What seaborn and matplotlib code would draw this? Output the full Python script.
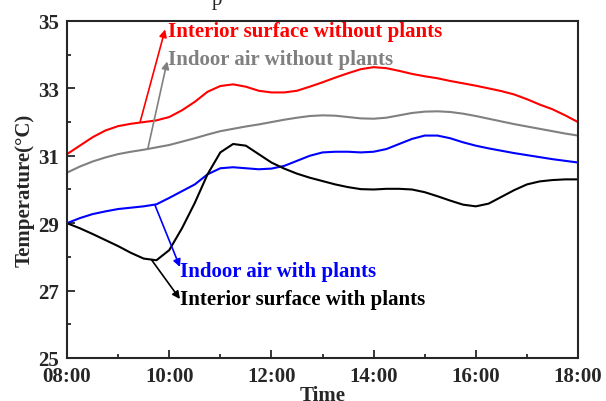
import matplotlib.pyplot as plt
import seaborn as sns
import pandas as pd

# time in hours, every quarter hour
hours = [8.0, 8.25, 8.5, 8.75, 9.0, 9.25, 9.5, 9.75, 10.0, 10.25, 10.5,
         10.75, 11.0, 11.25, 11.5, 11.75, 12.0, 12.25, 12.5, 12.75, 13.0,
         13.25, 13.5, 13.75, 14.0, 14.25, 14.5, 14.75, 15.0, 15.25, 15.5,
         15.75, 16.0, 16.25, 16.5, 16.75, 17.0, 17.25, 17.5, 17.75, 18.0]

surf_no_plants = [31.05, 31.3, 31.55, 31.75, 31.88, 31.95, 32.0, 32.05, 32.15, 32.35, 32.6,
                  32.9, 33.07, 33.12, 33.05, 32.93, 32.88, 32.88, 32.93, 33.05, 33.18,
                  33.32, 33.45, 33.57, 33.63, 33.6, 33.52, 33.43, 33.36, 33.3, 33.22,
                  33.15, 33.08, 33.0, 32.92, 32.82, 32.68, 32.52, 32.38, 32.2, 32.0]
air_no_plants = [30.5, 30.68, 30.83, 30.95, 31.05, 31.12, 31.18, 31.25, 31.32, 31.42, 31.52,
                 31.63, 31.73, 31.8, 31.87, 31.93, 32.0, 32.07, 32.13, 32.18, 32.2,
                 32.19, 32.15, 32.11, 32.1, 32.13, 32.2, 32.27, 32.31, 32.32, 32.3,
                 32.25, 32.18, 32.1, 32.02, 31.94, 31.87, 31.8, 31.73, 31.66, 31.6]
air_plants = [29.0, 29.15, 29.27, 29.35, 29.42, 29.46, 29.5, 29.56, 29.75, 29.95, 30.15,
              30.45, 30.63, 30.66, 30.63, 30.6, 30.62, 30.7, 30.85, 31.0, 31.1,
              31.12, 31.12, 31.1, 31.12, 31.2, 31.35, 31.5, 31.6, 31.6, 31.52,
              31.4, 31.3, 31.22, 31.15, 31.08, 31.02, 30.96, 30.9, 30.85, 30.8]
surf_plants = [29.0, 28.85, 28.68, 28.5, 28.32, 28.12, 27.95, 27.9, 28.2, 28.85, 29.6,
               30.45, 31.1, 31.35, 31.3, 31.05, 30.8, 30.62, 30.47, 30.35, 30.25,
               30.15, 30.07, 30.01, 30.0, 30.02, 30.02, 30.0, 29.92, 29.8, 29.67,
               29.55, 29.5, 29.58, 29.78, 29.98, 30.15, 30.24, 30.28, 30.3, 30.3]

tick_labels = ["08:00", "10:00", "12:00", "14:00", "16:00", "18:00"]

df = pd.DataFrame({"hour": hours,
                   "surf_no": surf_no_plants, "air_no": air_no_plants,
                   "air_pl": air_plants, "surf_pl": surf_plants})

sns.set_style("ticks")
plt.rcParams["font.family"] = ["Liberation Serif", "DejaVu Serif"]
plt.rcParams["font.weight"] = "bold"

fig, ax = plt.subplots(figsize=(6.06, 4.02), dpi=100)

sns.lineplot(data=df, x="hour", y="surf_no", color="#ff0000", lw=1.5, ax=ax)
sns.lineplot(data=df, x="hour", y="air_no", color="#808080", lw=1.5, ax=ax)
sns.lineplot(data=df, x="hour", y="air_pl", color="#0000ff", lw=1.5, ax=ax)
sns.lineplot(data=df, x="hour", y="surf_pl", color="#000000", lw=1.5, ax=ax)

ax.set_xlim(8, 18)
ax.set_ylim(25, 35)
ax.set_xticks([8, 10, 12, 14, 16, 18])
ax.set_xticklabels(tick_labels)
ax.set_xticks([9, 11, 13, 15, 17], minor=True)
ax.set_yticks([25, 27, 29, 31, 33, 35])
ax.set_yticks([26, 28, 30, 32, 34], minor=True)
ax.tick_params(which="both", direction="in", labelsize=15, width=1.3, pad=6)
ax.tick_params(which="major", length=5.5)
ax.tick_params(which="minor", length=3)
for lab in ax.get_xticklabels() + ax.get_yticklabels():
    lab.set_fontweight("bold")
for sp in ax.spines.values():
    sp.set_linewidth(1.5)
    sp.set_visible(True)

ax.set_xlabel("Time", fontsize=15, fontweight="bold", labelpad=-1)
ax.set_ylabel("Temperature(°C)", fontsize=15, fontweight="bold", labelpad=2)

arrow = dict(arrowstyle="-|>", lw=1.2, mutation_scale=11, shrinkA=0, shrinkB=0)
ax.annotate("", xy=(9.92, 34.75), xytext=(9.43, 32.0),
            arrowprops=dict(arrow, color="#ff0000"))
ax.text(9.98, 34.7, "Interior surface without plants", color="#ff0000",
        fontsize=15, fontweight="bold", va="center")
ax.annotate("", xy=(9.96, 33.8), xytext=(9.58, 31.2),
            arrowprops=dict(arrow, color="#808080"))
ax.text(9.98, 33.87, "Indoor air without plants", color="#808080",
        fontsize=15, fontweight="bold", va="center")
ax.annotate("", xy=(10.21, 27.7), xytext=(9.72, 29.54),
            arrowprops=dict(arrow, color="#0000ff"))
ax.text(10.21, 27.58, "Indoor air with plants", color="#0000ff",
        fontsize=15, fontweight="bold", va="center")
ax.annotate("", xy=(10.21, 26.75), xytext=(9.66, 27.9),
            arrowprops=dict(arrow, color="#000000"))
ax.text(10.21, 26.75, "Interior surface with plants", color="#000000",
        fontsize=15, fontweight="bold", va="center")

# remnant of a caption cut off at the top edge
fig.text(0.35, 1.0, "p", fontsize=15, fontweight="normal", va="center")

fig.subplots_adjust(left=0.1106, right=0.9538, top=0.9453, bottom=0.107)
fig.savefig("out.png", dpi=100)
